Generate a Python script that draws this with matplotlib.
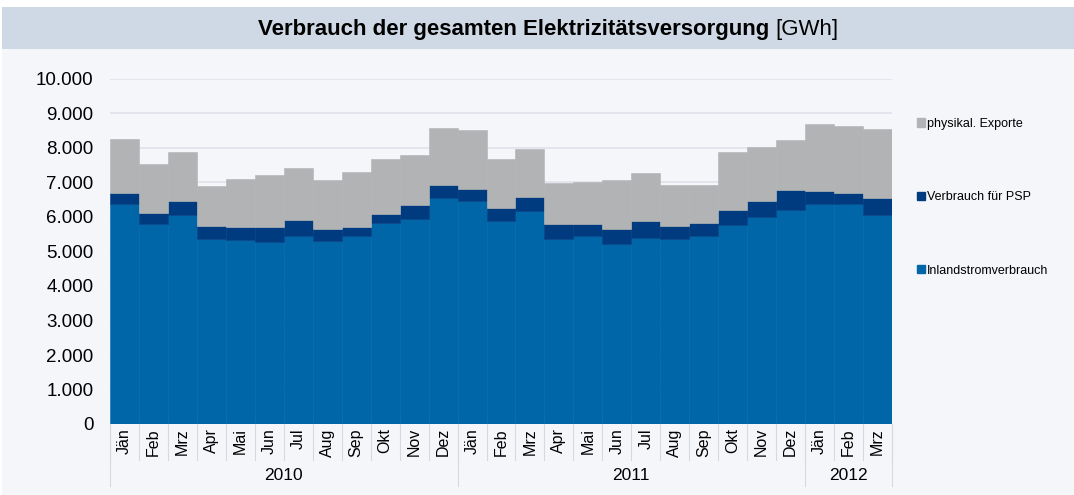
import matplotlib
matplotlib.use("Agg")
import matplotlib.pyplot as plt
from matplotlib.patches import Rectangle, Patch
from matplotlib.transforms import blended_transform_factory
import numpy as np

# Data (GWh), Jan 2010 - Mar 2012
months = ["Jän", "Feb", "Mrz", "Apr", "Mai", "Jun", "Jul", "Aug", "Sep", "Okt", "Nov", "Dez",
          "Jän", "Feb", "Mrz", "Apr", "Mai", "Jun", "Jul", "Aug", "Sep", "Okt", "Nov", "Dez",
          "Jän", "Feb", "Mrz"]
years = ["2010", "2011", "2012"]
months_per_year = [12, 12, 3]

inland = [6390, 5810, 6070, 5370, 5320, 5280, 5460, 5290, 5460, 5830, 5950, 6560,
          6450, 5890, 6180, 5370, 5440, 5220, 5400, 5370, 5450, 5770, 6010, 6210,
          6370, 6390, 6060]
psp = [320, 320, 400, 380, 400, 420, 450, 370, 260, 270, 390, 360,
       370, 360, 390, 420, 370, 420, 490, 370, 370, 440, 440, 570,
       390, 320, 480]
exports = [1560, 1410, 1410, 1150, 1390, 1530, 1500, 1420, 1580, 1590, 1450, 1650,
           1710, 1440, 1410, 1190, 1200, 1440, 1380, 1200, 1100, 1660, 1580, 1460,
           1940, 1930, 2020]

C_INLAND = "#0066A8"
C_PSP = "#003B80"
C_EXP = "#B2B3B5"
BG = "#F5F6FA"
TITLE_BG = "#CFD9E5"

fig = plt.figure(figsize=(10.74, 4.95), dpi=100, facecolor="white")
plt.rcParams["font.family"] = ["Liberation Sans", "DejaVu Sans"]

# background panel and title band
fig.patches.append(Rectangle((2 / 1074, 0), 1 - 2 / 1074, 1 - 49 / 495,
                             transform=fig.transFigure, facecolor=BG, edgecolor="none", zorder=-2))
fig.patches.append(Rectangle((2 / 1074, 1 - 49 / 495), 1 - 2 / 1074, 42 / 495,
                             transform=fig.transFigure, facecolor=TITLE_BG, edgecolor="none", zorder=-1))

ax = fig.add_axes([110 / 1074, 71 / 495, 782 / 1074, 345 / 495])
ax.set_facecolor(BG)

x = np.arange(len(months))
inland_a = np.array(inland)
psp_a = np.array(psp)
exp_a = np.array(exports)

ax.bar(x, inland_a, width=1.0, color=C_INLAND, edgecolor=C_INLAND, linewidth=0.4, zorder=2)
ax.bar(x, psp_a, width=1.0, bottom=inland_a, color=C_PSP, edgecolor=C_PSP, linewidth=0.4, zorder=2)
ax.bar(x, exp_a, width=1.0, bottom=inland_a + psp_a, color=C_EXP, edgecolor=C_EXP, linewidth=0.4, zorder=2)

ax.set_xlim(-0.5, len(months) - 0.5)
ax.set_ylim(0, 10000)
ax.set_yticks(np.arange(0, 10001, 1000))
ax.set_yticklabels([f"{v:,}".replace(",", ".") for v in range(0, 10001, 1000)], fontsize=13.5)
ax.yaxis.grid(True, color="#DFE2E8", linewidth=1.2, zorder=0)
ax.set_axisbelow(True)
ax.tick_params(axis="y", length=0, pad=12)
for s in ax.spines.values():
    s.set_visible(False)

ax.set_xticks(x)
ax.set_xticklabels(months, rotation=90, fontsize=11.5)
ax.tick_params(axis="x", length=0, pad=3)

# category separators below the axis
trans = blended_transform_factory(ax.transData, ax.transAxes)
for b in np.arange(-0.5, len(months), 1.0):
    ax.plot([b, b], [0, -0.105], color="#D5D9E0", linewidth=0.8, transform=trans, clip_on=False)
start = 0
for yr, n in zip(years, months_per_year):
    ax.plot([start - 0.5, start - 0.5], [0, -0.18], color="#D5D9E0", linewidth=0.8,
            transform=trans, clip_on=False)
    ax.text(start + n / 2 - 0.5, -0.15, yr, transform=trans, ha="center", va="center", fontsize=12.5)
    start += n
ax.plot([start - 0.5, start - 0.5], [0, -0.18], color="#D5D9E0", linewidth=0.8,
        transform=trans, clip_on=False)

# legend
handles = [Patch(color=C_EXP, label="physikal. Exporte"),
           Patch(color=C_PSP, label="Verbrauch für PSP"),
           Patch(color=C_INLAND, label="Inlandstromverbrauch")]
fig.legend(handles=handles, loc="upper left", bbox_to_anchor=(912 / 1074, 1 - 113 / 495),
           frameon=False, fontsize=9, handlelength=0.65, handleheight=0.65,
           handletextpad=0.15, labelspacing=4.9, borderaxespad=0)

# title: bold part + normal unit
t1 = fig.text(0.5, 1 - 29 / 495, "Verbrauch der gesamten Elektrizitätsversorgung ",
              ha="center", va="center", fontsize=16, fontweight="bold")
t2 = fig.text(0.5, 1 - 29 / 495, "[GWh]", ha="left", va="center", fontsize=16)
fig.canvas.draw()
r = fig.canvas.get_renderer()
w1 = t1.get_window_extent(r).width
w2 = t2.get_window_extent(r).width
cx = 548
left = cx - (w1 + w2) / 2
t1.set_ha("left")
t1.set_x(left / 1074)
t2.set_x((left + w1) / 1074)

fig.savefig("out.png", dpi=100, facecolor="white")
